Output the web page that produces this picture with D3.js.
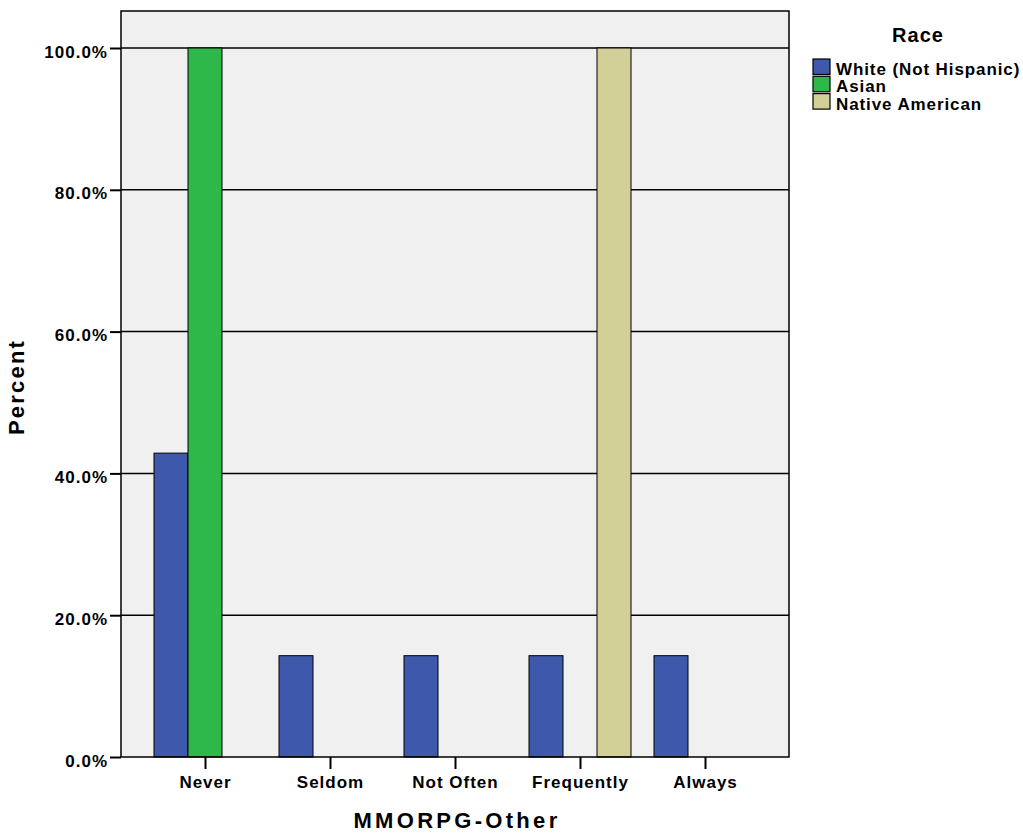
<!DOCTYPE html>
<html><head><meta charset="utf-8">
<script src="https://cdn.jsdelivr.net/npm/d3@7"></script>
<style>body{margin:0;background:#fff}svg text{font-family:"Liberation Sans",Arial,sans-serif;font-weight:bold;fill:#000}</style>
</head><body><svg id="c" width="1023" height="836"></svg>
<script>
const categories = ["Never","Seldom","Not Often","Frequently","Always"];
const seriesNames = ["White (Not Hispanic)","Asian","Native American"];
const whiteValues = [42.86,14.29,14.29,14.29,14.29];
const asianValues = [100,0,0,0,0];
const nativeValues = [0,0,0,100,0];
const colors = ["#3e58ac","#2fb84a","#d3cf98"];
const yTicks = [0,20,40,60,80,100];

const svg = d3.select("#c");
const L=121, R=789, T=11, B=757;
const x = d3.scalePoint().domain(categories).range([L,R]).padding(0.672);
const y = d3.scaleLinear().domain([0,100]).range([B,48]);
const bw = 34;
const sx = d3.scaleBand().domain(seriesNames).range([-1.5*bw,1.5*bw]);

svg.append("rect").attr("x",L).attr("y",T).attr("width",R-L).attr("height",B-T).attr("fill","#f0f0f0");
svg.append("g").selectAll("line").data(yTicks.filter(d=>d>0)).join("line")
  .attr("x1",L).attr("x2",R).attr("y1",d=>y(d)).attr("y2",d=>y(d)).attr("stroke","#000").attr("stroke-width",1.5);

const series = [whiteValues,asianValues,nativeValues];
series.forEach((vals,si)=>{
  svg.append("g").selectAll("rect").data(categories.map((c,i)=>({c,v:vals[i]})).filter(d=>d.v>0)).join("rect")
    .attr("x",d=>x(d.c)+sx(seriesNames[si])).attr("width",bw)
    .attr("y",d=>y(d.v)).attr("height",d=>B-y(d.v))
    .attr("fill",colors[si]).attr("stroke","#000").attr("stroke-width",1);
});

svg.append("rect").attr("x",L).attr("y",T).attr("width",R-L).attr("height",B-T).attr("fill","none").attr("stroke","#000").attr("stroke-width",1.5);

const ya = svg.append("g").attr("transform",`translate(${L},0)`)
  .call(d3.axisLeft(y).tickValues(yTicks).tickSize(11).tickPadding(2).tickFormat(d=>d.toFixed(1)+"%"));
ya.select(".domain").remove();
ya.selectAll("line").attr("stroke","#000").attr("stroke-width",2);
ya.selectAll("text").style("font-size","17px").style("letter-spacing","1px").attr("dy","0.53em");

const xa = svg.append("g").attr("transform",`translate(0,${B})`)
  .call(d3.axisBottom(x).tickSize(12).tickPadding(7));
xa.select(".domain").remove();
xa.selectAll("line").attr("stroke","#000").attr("stroke-width",2);
xa.selectAll("text").style("font-size","17px").style("letter-spacing","1px");

svg.append("text").attr("x",457).attr("y",828).attr("text-anchor","middle").style("font-size","22px").style("letter-spacing","3.3px").text("MMORPG-Other");
svg.append("text").attr("transform","translate(24,387) rotate(-90)").attr("text-anchor","middle").style("font-size","22px").style("letter-spacing","2.2px").text("Percent");

svg.append("text").attr("x",918).attr("y",42).attr("text-anchor","middle").style("font-size","20px").style("letter-spacing","1px").text("Race");
const lg = svg.append("g").selectAll("g").data(seriesNames).join("g").attr("transform",(d,i)=>`translate(813,${59+i*17.3})`);
lg.append("rect").attr("width",17).attr("height",15.5).attr("fill",(d,i)=>colors[i]).attr("stroke","#000").attr("stroke-width",1.2);
lg.append("text").attr("x",23).attr("y",16).style("font-size","17px").style("letter-spacing","0.9px").text(d=>d);
</script></body></html>
